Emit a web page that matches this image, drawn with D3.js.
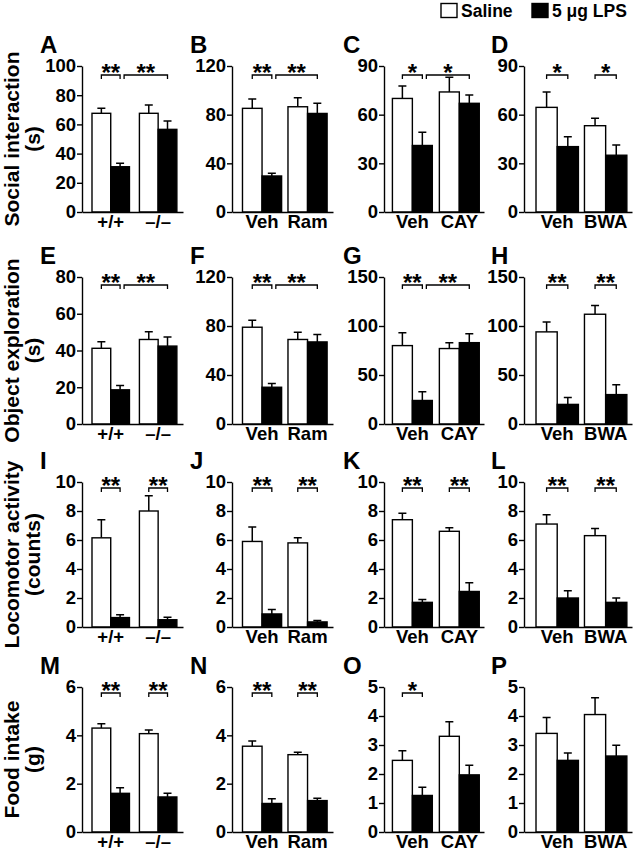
<!DOCTYPE html>
<html>
<head>
<meta charset="utf-8">
<script src="https://cdn.jsdelivr.net/npm/d3@7"></script>
<style>
  body { margin: 0; background: #fff; }
  svg { display: block; font-family: "Liberation Sans", Arial, sans-serif; font-weight: bold; }
</style>
</head>
<body>
<div id="vis"></div>
<script>
// panels A..P, row by row
const panelLetters = ['A','B','C','D','E','F','G','H','I','J','K','L','M','N','O','P']
const rowTitles = [['Social interaction', '(s)'], ['Object exploration', '(s)'],
                   ['Locomotor activity', '(counts)'], ['Food intake', '(g)']]
const groupLabels = [['+/+', '\u2013/\u2013'], ['Veh', 'Ram'], ['Veh', 'CAY'], ['Veh', 'BWA']]
const seriesNames = ['Saline', '5 \u03bcg LPS']

const yMax  = [100, 120, 90, 90,  80, 120, 150, 150,  10, 10, 10, 10,  6, 6, 5, 5]
const yStep = [ 20,  40, 30, 30,  20,  40,  50,  50,   2,  2,  2,  2,  2, 2, 1, 1]

const salineMean = [[67.6, 67.6], [85.2, 86.5], [70, 74], [64.5, 53.2],
                    [41.2, 46], [79, 69], [80, 77], [94, 112],
                    [6.15, 8.0], [5.9, 5.8], [7.4, 6.6], [7.1, 6.3],
                    [4.3, 4.07], [3.55, 3.2], [2.47, 3.3], [3.4, 4.05]]
const salineSem  = [[3.4, 5.7], [7.6, 7.5], [7.6, 9], [9.5, 4.6],
                    [3.6, 4.2], [5.6, 6], [13, 6], [10, 9],
                    [1.25, 1.05], [1.0, 0.35], [0.45, 0.25], [0.65, 0.5],
                    [0.18, 0.15], [0.22, 0.1], [0.33, 0.5], [0.55, 0.58]]
const lpsMean    = [[31, 56.6], [29.6, 81], [41, 67], [40.3, 35],
                    [18.6, 42.4], [30, 67], [24, 83], [20, 30],
                    [0.65, 0.5], [0.9, 0.35], [1.7, 2.45], [2.0, 1.7],
                    [1.6, 1.45], [1.18, 1.3], [1.26, 1.97], [2.47, 2.62]]
const lpsSem     = [[2.4, 5.7], [2.2, 8.3], [8.2, 5.1], [6.1, 6.3],
                    [2.4, 5], [3, 6], [9, 9], [7, 10],
                    [0.2, 0.17], [0.3, 0.1], [0.2, 0.6], [0.5, 0.3],
                    [0.23, 0.15], [0.2, 0.1], [0.28, 0.33], [0.25, 0.37]]

// significance brackets: [bar from, bar to, label], bars 0..3 = sal1, lps1, sal2, lps2
const sigMarks = [
  [[0, 1, '**'], [1, 3, '**']], [[0, 1, '**'], [1, 3, '**']], [[0, 1, '*'], [1, 3, '*']], [[0, 1, '*'], [2, 3, '*']],
  [[0, 1, '**'], [1, 3, '**']], [[0, 1, '**'], [1, 3, '**']], [[0, 1, '**'], [1, 3, '**']], [[0, 1, '**'], [2, 3, '**']],
  [[0, 1, '**'], [2, 3, '**']], [[0, 1, '**'], [2, 3, '**']], [[0, 1, '**'], [2, 3, '**']], [[0, 1, '**'], [2, 3, '**']],
  [[0, 1, '**'], [2, 3, '**']], [[0, 1, '**'], [2, 3, '**']], [[0, 1, '*']], []
]

// layout
const width = 636, height = 852
const rowTop = [66, 277, 482, 687]
const rowBottom = [212, 424, 627, 832]
const bracketGap = [9, 8, 6, 6]
const colLeft = [82, 232, 384, 524]
const colRight = [183, 333, 484, 632]
const colPadInner = [0.21, 0.14, 0.15, 0.125]
const colPadOuter = [0.17, 0.18, 0.14, 0.177]
const colAlign = [0.62, 0.64, 0.64, 0.7]
const letterX = [40, 190, 343, 491]

let svg = d3.select('#vis').append('svg')
    .attr('width', width)
    .attr('height', height)

svg.append('rect').attr('width', width).attr('height', height).attr('fill', '#fff')

// legend
const legend = svg.append('g').attr('font-size', 17.5)
const legendX = [441, 532]
seriesNames.forEach((name, i) => {
    legend.append('rect')
        .attr('x', legendX[i]).attr('y', 3.5)
        .attr('width', 16).attr('height', 14)
        .attr('fill', i === 0 ? '#fff' : '#000')
        .attr('stroke', '#000').attr('stroke-width', 1.4)
    legend.append('text')
        .attr('x', legendX[i] + 20).attr('y', 17)
        .text(name)
})

// row titles
rowTitles.forEach((lines, r) => {
    let cy = (rowTop[r] + rowBottom[r]) / 2
    lines.forEach((t, j) => {
        svg.append('text')
            .attr('transform', `translate(${j === 0 ? 19 : 40}, ${cy}) rotate(-90)`)
            .attr('text-anchor', 'middle')
            .attr('font-size', 21)
            .text(t)
    })
})

function drawPanel(p){
    let row = Math.floor(p / 4), col = p % 4
    let g = svg.append('g')

    let y = d3.scaleLinear([0, yMax[p]], [rowBottom[row], rowTop[row]])
    let xGroup = d3.scaleBand(groupLabels[col], [colLeft[col], colRight[col]])
        .paddingInner(colPadInner[col])
        .paddingOuter(colPadOuter[col])
        .align(colAlign[col])
    let xInner = d3.scaleBand([0, 1], [0, xGroup.bandwidth()])

    let bars = []
    groupLabels[col].forEach((lab, gi) => {
        bars.push({group: lab, s: 0, mean: salineMean[p][gi], sem: salineSem[p][gi]})
        bars.push({group: lab, s: 1, mean: lpsMean[p][gi], sem: lpsSem[p][gi]})
    })
    const cx = d => xGroup(d.group) + xInner(d.s) + xInner.bandwidth() / 2

    // error bars (upper only)
    g.selectAll('.err')
        .data(bars).enter()
        .append('path')
            .attr('d', d => `M${cx(d)},${y(d.mean)}V${y(d.mean + d.sem)}M${cx(d) - 4},${y(d.mean + d.sem)}H${cx(d) + 4}`)
            .attr('stroke', '#000')
            .attr('stroke-width', 1.5)
            .attr('fill', 'none')

    g.selectAll('rect')
        .data(bars).enter()
        .append('rect')
            .attr('x', d => xGroup(d.group) + xInner(d.s))
            .attr('y', d => y(d.mean))
            .attr('width', xInner.bandwidth())
            .attr('height', d => y(0) - y(d.mean))
            .attr('fill', d => d.s === 0 ? '#fff' : '#000')
            .attr('stroke', '#000')
            .attr('stroke-width', 1.4)

    // axes
    let yAxis = d3.axisLeft(y)
        .tickValues(d3.range(0, yMax[p] + yStep[p] / 2, yStep[p]))
        .tickFormat(d3.format('d'))
        .tickSize(5)
        .tickSizeOuter(0)
        .tickPadding(1)
    g.append('g')
        .attr('transform', `translate(${colLeft[col]}, 0)`)
        .call(yAxis)
        .call(a => a.selectAll('text').attr('font-size', 18.5).attr('font-family', null).attr('fill', '#000'))
        .call(a => a.selectAll('line, path').attr('stroke-width', 1.4))

    let xAxis = d3.axisBottom(xGroup).tickSize(0).tickSizeOuter(0).tickPadding(3)
    g.append('g')
        .attr('transform', `translate(0, ${rowBottom[row]})`)
        .call(xAxis)
        .call(a => a.selectAll('text').attr('font-size', 18.5).attr('font-family', null).attr('fill', '#000'))
        .call(a => a.select('.domain').attr('stroke-width', 1.4))

    // significance brackets
    let by = rowTop[row] + bracketGap[row]
    sigMarks[p].forEach(([a, b, label]) => {
        let shift = sigMarks[p].some(m => m[1] === a) ? 4 : 0
        let x1 = cx(bars[a]) + shift, x2 = cx(bars[b])
        g.append('path')
            .attr('d', `M${x1},${by + 4}V${by}H${x2}V${by + 4}`)
            .attr('stroke', '#000').attr('stroke-width', 1.3).attr('fill', 'none')
        g.append('text')
            .attr('x', (x1 + x2) / 2)
            .attr('y', by + 6)
            .attr('text-anchor', 'middle')
            .attr('font-size', 24)
            .text(label)
    })

    // panel letter
    g.append('text')
        .attr('x', letterX[col])
        .attr('y', rowTop[row] - 13)
        .attr('font-size', 24)
        .text(panelLetters[p])
}

panelLetters.forEach((d, i) => drawPanel(i))
</script>
</body>
</html>
